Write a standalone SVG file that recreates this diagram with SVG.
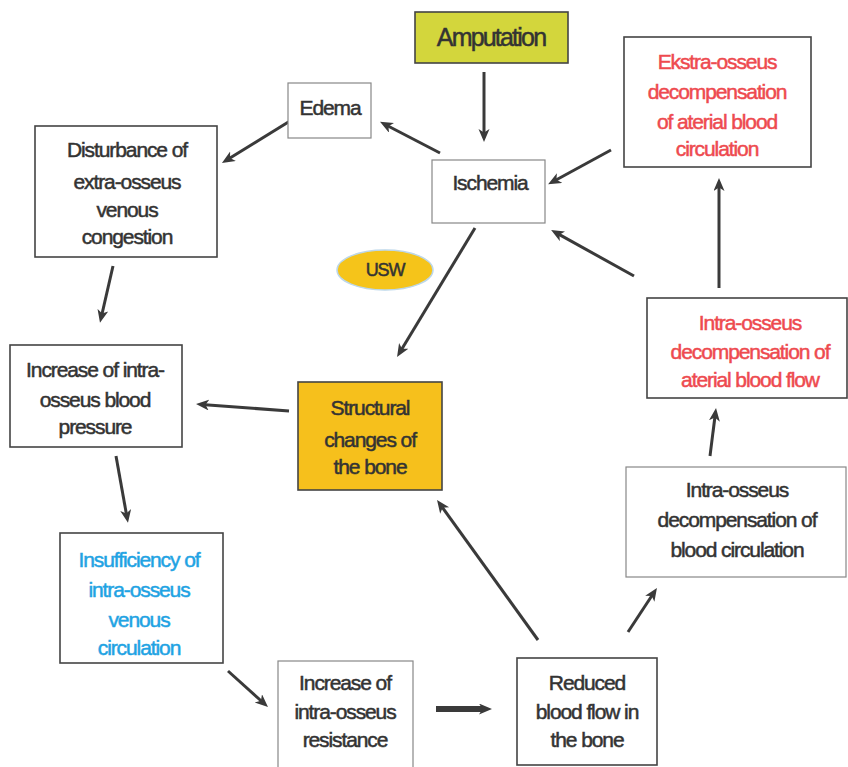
<svg xmlns="http://www.w3.org/2000/svg" width="848" height="767" viewBox="0 0 848 767">
<style>
text{font-family:"Liberation Sans",Arial,sans-serif;font-size:21px;letter-spacing:-1.1px;text-anchor:middle;fill:#333;stroke:#333;stroke-width:0.5px;}
.box{fill:#fff;stroke:#444;stroke-width:1.6;}
.lt{stroke:#888;stroke-width:1.2;}
.red{fill:#ee4a4f;stroke:#ee4a4f;}
.blue{fill:#1fa3e3;stroke:#1fa3e3;}
.con line{stroke:#3a3a3a;stroke-width:3;marker-end:url(#ah);}
</style>
<defs>
<marker id="ah" markerUnits="userSpaceOnUse" markerWidth="14" markerHeight="12" refX="4" refY="5.5" orient="auto">
<path d="M0,0 L13,5.5 L0,11 L3.5,5.5 Z" fill="#3a3a3a"/>
</marker>
</defs>
<rect width="848" height="767" fill="#fff"/>

<g class="con" id="connectors">
<line x1="484" y1="72" x2="484" y2="133"/>
<line x1="440" y1="153" x2="388" y2="126"/>
<line x1="290" y1="121" x2="229.6" y2="158.3"/>
<line x1="113" y1="266" x2="102" y2="314"/>
<line x1="611" y1="150" x2="556" y2="180"/>
<line x1="634" y1="276" x2="559" y2="234.4"/>
<line x1="719" y1="288" x2="719" y2="187"/>
<line x1="475" y1="228" x2="401.7" y2="349.3"/>
<line x1="289" y1="411" x2="205" y2="404.7"/>
<line x1="116" y1="456" x2="126.4" y2="514"/>
<line x1="228" y1="671" x2="261.3" y2="701"/>
<line x1="436" y1="709" x2="483" y2="709" style="stroke-width:6"/>
<line x1="538" y1="640" x2="442.3" y2="507.3"/>
<line x1="628" y1="632" x2="652" y2="595.5"/>
<line x1="710" y1="456" x2="714.9" y2="417"/>
</g>

<g id="amputation">
<rect x="415" y="12" width="153" height="51" fill="#d3d63c" stroke="#444" stroke-width="1.6"/>
<text x="491" y="46" style="font-size:25px;letter-spacing:-1.8px">Amputation</text>
</g>

<g id="edema">
<rect class="box lt" x="288" y="83" width="83" height="55"/>
<text x="330" y="115">Edema</text>
</g>

<g id="ischemia">
<rect class="box lt" x="432" y="160" width="113" height="63"/>
<text x="490" y="190">Ischemia</text>
</g>

<g id="ekstra">
<rect class="box" x="624" y="37" width="187" height="130"/>
<text class="red" x="717" y="69">Ekstra-osseus</text>
<text class="red" x="717" y="99">decompensation</text>
<text class="red" x="717" y="129">of aterial blood</text>
<text class="red" x="717" y="156">circulation</text>
</g>

<g id="disturbance">
<rect class="box" x="35" y="126" width="182" height="131"/>
<text x="127" y="157">Disturbance of</text>
<text x="127" y="189">extra-osseus</text>
<text x="127" y="217">venous</text>
<text x="127" y="244">congestion</text>
</g>

<g id="usw">
<ellipse cx="385" cy="270" rx="48" ry="20" fill="#f5c41a" stroke="#bcd7ea" stroke-width="1.5"/>
<text x="385" y="276" style="font-size:18px">USW</text>
</g>

<g id="structural">
<rect x="298" y="382" width="144" height="108" fill="#f6c01c" stroke="#444" stroke-width="1.6"/>
<text x="370" y="415">Structural</text>
<text x="370" y="447">changes of</text>
<text x="370" y="474">the bone</text>
</g>

<g id="intra-red">
<rect class="box" x="647" y="298" width="200" height="100"/>
<text class="red" x="750" y="330">Intra-osseus</text>
<text class="red" x="750" y="359">decompensation of</text>
<text class="red" x="750" y="387">aterial blood flow</text>
</g>

<g id="intra-black">
<rect class="box lt" x="626" y="467" width="220" height="110"/>
<text x="737" y="497">Intra-osseus</text>
<text x="737" y="527">decompensation of</text>
<text x="737" y="557">blood circulation</text>
</g>

<g id="increase-pressure">
<rect class="box" x="10" y="345" width="172" height="102"/>
<text x="95" y="377">Increase of intra-</text>
<text x="95" y="407">osseus blood</text>
<text x="95" y="434">pressure</text>
</g>

<g id="insufficiency">
<rect class="box" x="60" y="533" width="163" height="130"/>
<text class="blue" x="139" y="567">Insufficiency of</text>
<text class="blue" x="139" y="597">intra-osseus</text>
<text class="blue" x="139" y="627">venous</text>
<text class="blue" x="139" y="655">circulation</text>
</g>

<g id="resistance">
<rect class="box lt" x="278" y="661" width="135" height="112"/>
<text x="345" y="690">Increase of</text>
<text x="345" y="719">intra-osseus</text>
<text x="345" y="747">resistance</text>
</g>

<g id="reduced">
<rect class="box" x="517" y="658" width="140" height="107"/>
<text x="587" y="690">Reduced</text>
<text x="587" y="719">blood flow in</text>
<text x="587" y="747">the bone</text>
</g>
</svg>
